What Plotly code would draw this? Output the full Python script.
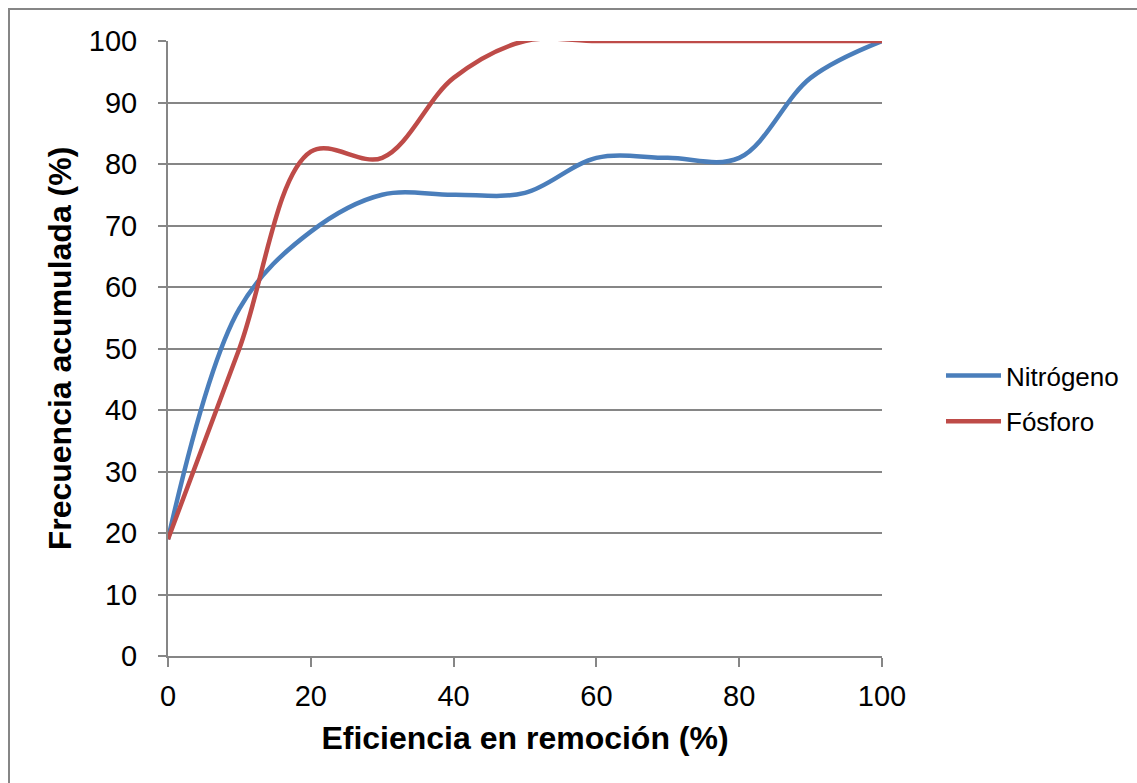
import plotly.graph_objects as go

# Eficiencia en remoción (%) y frecuencia acumulada (%)
eficiencia = [0, 10, 20, 30, 40, 50, 60, 70, 80, 90, 100]
nitrogeno = [19, 56.5, 69, 75, 75, 75.3, 81, 81, 81, 94, 100]
fosforo = [19, 50, 82, 81, 94, 100, 100, 100, 100, 100, 100]

x_ticks = [0, 20, 40, 60, 80, 100]
y_ticks = [0, 10, 20, 30, 40, 50, 60, 70, 80, 90, 100]

W, H = 1137, 783
L, R, T, B = 168, 255, 41, 127
pw, ph = W - L - R, H - T - B

grey = "#868686"
font_family = "Liberation Sans, Arial, sans-serif"

fig = go.Figure()
fig.add_trace(go.Scatter(
    x=eficiencia, y=nitrogeno, name="Nitrógeno", mode="lines",
    legendgroup="n",
    line=dict(color="#4A7EBB", width=4.5, shape="spline", smoothing=1.0),
))
fig.add_trace(go.Scatter(
    x=eficiencia, y=fosforo, name="Fósforo", mode="lines",
    legendgroup="p",
    line=dict(color="#BE4B48", width=4.5, shape="spline", smoothing=1.0),
))

# pixel -> paper coordinate helpers
def px_x(p):
    return (p - L) / pw

def px_y(p):
    return (H - B - p) / ph

# outer chart border
fig.add_shape(type="rect", xref="paper", yref="paper",
              x0=px_x(9), x1=px_x(1150), y0=px_y(796), y1=px_y(9),
              line=dict(color=grey, width=2), fillcolor="rgba(0,0,0,0)",
              layer="below")

fig.update_layout(
    width=W, height=H,
    margin=dict(l=L, r=R, t=T, b=B, autoexpand=False),
    paper_bgcolor="white", plot_bgcolor="white",
    font=dict(family=font_family, color="black"),
    showlegend=True,
    legend=dict(
        x=px_x(941), y=px_y(352), xanchor="left", yanchor="top",
        font=dict(size=26, family=font_family, color="black"),
        bgcolor="rgba(0,0,0,0)", traceorder="grouped", tracegroupgap=9,
        itemwidth=55,
    ),
    xaxis=dict(
        range=[0, 100], tickvals=x_ticks, showgrid=False, zeroline=False,
        showline=True, linecolor=grey, linewidth=2,
        ticks="outside", ticklen=9, tickwidth=2, tickcolor=grey,
        tickfont=dict(size=29), ticklabelstandoff=4,
        title=dict(text="<b>Eficiencia en remoción (%)</b>",
                   font=dict(size=32), standoff=16),
    ),
    yaxis=dict(
        range=[0, 100], tickvals=y_ticks, showgrid=True, gridcolor=grey,
        gridwidth=1.5, zeroline=False,
        showline=True, linecolor=grey, linewidth=2,
        ticks="outside", ticklen=8, tickwidth=2, tickcolor=grey,
        tickfont=dict(size=29), ticklabelstandoff=15,
        title=dict(text="<b>Frecuencia acumulada (%)</b>",
                   font=dict(size=32), standoff=8),
    ),
)

fig.write_html("out.html")
